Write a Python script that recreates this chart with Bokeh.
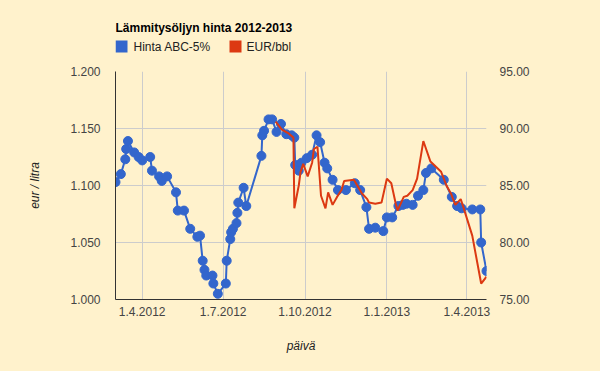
import pandas as pd
from bokeh.plotting import figure
from bokeh.layouts import column
from bokeh.models import (Range1d, LinearAxis, FixedTicker, NumeralTickFormatter,
                          ColumnDataSource)
from bokeh.core.properties import value
from bokeh.embed import file_html
from bokeh.resources import INLINE

# ---------------- data ----------------
blue_dates = [
    "2012-03-02", "2012-03-08", "2012-03-13", "2012-03-14", "2012-03-16", "2012-03-23",
    "2012-03-28", "2012-04-01", "2012-04-10", "2012-04-12", "2012-04-20", "2012-04-23",
    "2012-04-29", "2012-05-09", "2012-05-11", "2012-05-18", "2012-05-25", "2012-06-02",
    "2012-06-05", "2012-06-08", "2012-06-10", "2012-06-12", "2012-06-19", "2012-06-20",
    "2012-06-25", "2012-07-04", "2012-07-05", "2012-07-09", "2012-07-10", "2012-07-12",
    "2012-07-16", "2012-07-17", "2012-07-18", "2012-07-24", "2012-07-27", "2012-08-13",
    "2012-08-14", "2012-08-16", "2012-08-21", "2012-08-25", "2012-08-30", "2012-09-04",
    "2012-09-10", "2012-09-16", "2012-09-19", "2012-09-20", "2012-09-24", "2012-09-27",
    "2012-10-03", "2012-10-09", "2012-10-14", "2012-10-18", "2012-10-23", "2012-10-26",
    "2012-11-01", "2012-11-07", "2012-11-16", "2012-11-26", "2012-12-02", "2012-12-09",
    "2012-12-12", "2012-12-19", "2012-12-28", "2013-01-01", "2013-01-07", "2013-01-14",
    "2013-01-19", "2013-01-23", "2013-01-30", "2013-02-05", "2013-02-11", "2013-02-14",
    "2013-02-20", "2013-03-06", "2013-03-15", "2013-03-21", "2013-03-26", "2013-04-07",
    "2013-04-16", "2013-04-17", "2013-04-23",
]
blue_values = [
    1.103, 1.110, 1.123, 1.132, 1.139, 1.129,
    1.125, 1.122, 1.125, 1.113, 1.108, 1.104,
    1.108, 1.094, 1.078, 1.078, 1.062, 1.055,
    1.056, 1.034, 1.026, 1.021, 1.021, 1.014,
    1.005, 1.014, 1.034, 1.053, 1.059, 1.062,
    1.067, 1.076, 1.085, 1.098, 1.082, 1.126,
    1.144, 1.148, 1.158, 1.158, 1.147, 1.154,
    1.145, 1.144, 1.142, 1.118, 1.113, 1.120,
    1.124, 1.127, 1.144, 1.138, 1.120, 1.115,
    1.105, 1.096, 1.096, 1.102, 1.096, 1.081,
    1.062, 1.063, 1.060, 1.072, 1.072, 1.082,
    1.083, 1.084, 1.083, 1.091, 1.096, 1.111,
    1.115, 1.105, 1.090, 1.082, 1.080, 1.079,
    1.079, 1.050, 1.025,
]
red_dates = [
    "2012-08-29", "2012-09-05", "2012-09-12", "2012-09-18", "2012-09-19", "2012-09-24",
    "2012-09-26", "2012-09-29", "2012-10-04", "2012-10-09", "2012-10-11", "2012-10-15",
    "2012-10-19", "2012-10-24", "2012-10-27", "2012-11-01", "2012-11-06", "2012-11-11",
    "2012-11-14", "2012-11-25", "2012-12-04", "2012-12-10", "2012-12-12", "2012-12-19",
    "2012-12-26", "2013-01-01", "2013-01-06", "2013-01-11", "2013-01-13", "2013-01-20",
    "2013-01-24", "2013-01-30", "2013-02-04", "2013-02-11", "2013-02-19", "2013-03-03",
    "2013-03-09", "2013-03-14", "2013-03-19", "2013-03-25", "2013-03-28", "2013-04-07",
    "2013-04-17", "2013-04-23",
]
red_values = [
    90.6, 89.9, 89.6, 89.2, 83.0, 85.0,
    86.2, 86.9, 85.8, 87.0, 88.2, 88.4,
    84.1, 83.0, 84.4, 83.3, 84.0, 84.6,
    85.4, 85.5, 84.3, 83.8, 83.5, 83.4,
    83.5, 85.6, 85.2, 83.4, 82.8, 84.0,
    84.1, 84.6, 85.6, 88.9, 87.1, 86.2,
    85.0, 84.3, 83.3, 83.8, 83.1, 80.6,
    76.4, 77.0,
]
x_tick_dates = ["2012-04-01", "2012-07-01", "2012-10-01", "2013-01-01", "2013-04-01"]
x_tick_labels = ["1.4.2012", "1.7.2012", "1.10.2012", "1.1.2013", "1.4.2013"]
left_ticks = [1.000, 1.050, 1.100, 1.150, 1.200]
right_ticks = [75, 80, 85, 90, 95]
series_names = ["Hinta ABC-5%", "EUR/bbl"]
title_text = "Lämmitysöljyn hinta 2012-2013"

# ---------------- style ----------------
BG = "#FFF2CC"
FONT = "Liberation Sans"
FS = "12px"
BLUE = "#3366CC"
RED = "#DC3912"
HEADER_H = 60
FRAME_L, FRAME_R = 115, 486

# ---------------- header (title + legend) ----------------
# the column aligns this header's frame with the chart frame (x 115..486),
# so its x range is expressed in page pixels
hdr = figure(width=600, height=HEADER_H, output_backend="svg", toolbar_location=None,
             x_range=Range1d(FRAME_L, FRAME_R), y_range=Range1d(HEADER_H, 0),
             min_border=0, background_fill_color=BG, border_fill_color=BG)
hdr.axis.visible = False
hdr.grid.visible = False
hdr.outline_line_color = None
hdr.title = None
hdr.text(x=[115], y=[27], text=[title_text], text_font=value(FONT),
         text_font_style="bold", text_font_size=FS, text_color="#000000",
         text_baseline="middle", text_align="left")
sw_src = ColumnDataSource(dict(left=[115, 229], right=[127, 241], top=[40, 40],
                               bottom=[52, 52], color=[BLUE, RED]))
hdr.quad(left="left", right="right", top="top", bottom="bottom", fill_color="color",
         line_color=None, source=sw_src)
hdr.text(x=[133, 246], y=[46.5, 46.5], text=series_names, text_font=value(FONT),
         text_font_size=FS, text_color="#222222", text_baseline="middle",
         text_align="left")

# ---------------- main chart ----------------
bx = pd.to_datetime(blue_dates)
rx = pd.to_datetime(red_dates)
xmin = min(bx.min(), rx.min())
xmax = max(bx.max(), rx.max())

p = figure(width=600, height=371 - HEADER_H, x_axis_type="datetime",
           output_backend="svg", toolbar_location=None, title=None,
           x_range=Range1d(xmin, xmax), y_range=Range1d(1.0, 1.2),
           min_border_left=FRAME_L, min_border_right=600 - FRAME_R,
           min_border_top=71 - HEADER_H, min_border_bottom=72,
           background_fill_color=BG, border_fill_color=BG)
p.outline_line_color = None
p.extra_y_ranges = {"eur": Range1d(75, 95)}

tick_ms = [pd.Timestamp(d).value / 1e6 for d in x_tick_dates]
xa = p.xaxis[0]
xa.ticker = FixedTicker(ticks=tick_ms)
xa.major_label_overrides = {t: l for t, l in zip(tick_ms, x_tick_labels)}
xa.major_tick_line_color = None
xa.minor_tick_line_color = None
xa.axis_line_color = "#333333"
xa.major_label_standoff = 1
xa.major_label_text_font = FONT
xa.major_label_text_font_size = FS
xa.major_label_text_color = "#444444"
xa.axis_label = "päivä"
xa.axis_label_text_font = FONT
xa.axis_label_text_font_style = "italic"
xa.axis_label_text_font_size = FS
xa.axis_label_text_color = "#222222"
xa.axis_label_standoff = 20

ya = p.yaxis[0]
ya.ticker = FixedTicker(ticks=left_ticks)
ya.formatter = NumeralTickFormatter(format="0.000")
ya.major_tick_line_color = None
ya.minor_tick_line_color = None
ya.axis_line_color = "#333333"
ya.major_label_standoff = 9
ya.major_label_text_font = FONT
ya.major_label_text_font_size = FS
ya.major_label_text_color = "#444444"
ya.axis_label = "eur / litra"
ya.axis_label_text_font = FONT
ya.axis_label_text_font_style = "italic"
ya.axis_label_text_font_size = FS
ya.axis_label_text_color = "#222222"
ya.axis_label_standoff = 25

ra = LinearAxis(y_range_name="eur", ticker=FixedTicker(ticks=right_ticks),
                formatter=NumeralTickFormatter(format="0.00"))
ra.axis_line_color = None
ra.major_tick_line_color = None
ra.minor_tick_line_color = None
ra.major_label_standoff = 7
ra.major_label_text_font = FONT
ra.major_label_text_font_size = FS
ra.major_label_text_color = "#444444"
p.add_layout(ra, "right")

p.xgrid.grid_line_color = "#cccccc"
p.ygrid.grid_line_color = "#cccccc"

p.line(bx, blue_values, color=BLUE, line_width=2)
p.scatter(bx, blue_values, size=9, color=BLUE)
p.line(rx, red_values, y_range_name="eur", color=RED, line_width=2)

layout = column(hdr, p, spacing=0)

template = """{% block preamble %}<style>html, body { background: #FFF2CC; margin: 0; overflow: hidden; }</style>{% endblock %}
"""

open("out.html", "w").write(file_html(layout, INLINE, template=template))
